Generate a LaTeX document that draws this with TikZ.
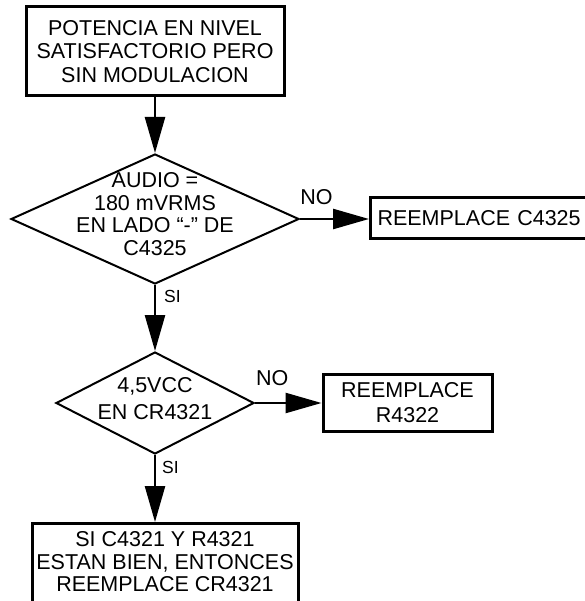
\documentclass[tikz,border=0pt]{standalone}
\usepackage{fontspec}
\setmainfont{Liberation Sans}
\usepackage{tikz}
\usetikzlibrary{shapes.geometric}
\usetikzlibrary{arrows.meta}

\tikzset{
  box/.style={draw, line width=3pt, align=center},
  decision/.style={draw, diamond, line width=2pt, inner sep=0pt},
  flow/.style={line width=2.5pt, -{Triangle[length=36pt, width=20pt]}},
  yesno/.style={inner sep=0pt, font=\fontsize{21.5}{24}\selectfont},
  small/.style={inner sep=0pt, font=\fontsize{17.5}{19}\selectfont},
}

\begin{document}
\begin{tikzpicture}[x=1pt, y=-1pt]
\useasboundingbox (0,0) rectangle (584,601);
% \draw [help lines] (0,0) grid[step=50] (584,601);
\node[box, minimum width=258pt, minimum height=89pt, font=\fontsize{21.5}{23.5}\selectfont]
  (start) at (155,51.5) {POTENCIA EN NIVEL\\SATISFACTORIO PERO\\SIN MODULACION};
% first test
\node[decision, minimum width=288pt, minimum height=130pt] (audio) at (155,219) {};
\node[align=center, font=\fontsize{21.5}{22.7}\selectfont] (audiotext) at (155,214)
  {AUDIO =\\180 mVRMS\\EN LADO “-” DE\\C4325};
\node[box, anchor=west, minimum height=41pt, text width=230pt, align=left, inner xsep=7pt,
  font=\fontsize{21.5}{23.5}\selectfont] (c4325) at (369,218.5) {REEMPLACE C4325};
% second test
\node[decision, minimum width=198pt, minimum height=102pt] (check) at (155,403) {};
\node[align=center, font=\fontsize{21.5}{27}\selectfont] (checktext) at (155,398.5)
  {4,5VCC\\EN CR4321};
\node[box, minimum width=169pt, minimum height=57pt, font=\fontsize{21.5}{25}\selectfont]
  (r4322) at (407.5,402.5) {REEMPLACE\\R4322};
% last step, runs off the page
\node[box, anchor=north, minimum width=266pt, inner ysep=8pt, text depth=30pt,
  font=\fontsize{21.5}{22.5}\selectfont] (cr4321) at (165,522)
  {SI C4321 Y R4321\\ESTAN BIEN, ENTONCES\\REEMPLACE CR4321};

\draw[flow] (start.south) -- (audio.north);
\draw[flow] (audio.east) -- node[yesno, pos=0.24, yshift=22pt] (no1) {NO} (audio.east -| c4325.west);
\draw[flow] (audio.south) -- node[small, pos=0.17, xshift=17.5pt] (si1) {SI} (check.north);
\draw[flow] (check.east) -- node[yesno, pos=0.26, yshift=25pt] (no2) {NO} (check.east -| r4322.west);
\draw[flow] (check.south) -- node[small, pos=0.19, xshift=15.5pt] (si2) {SI} (check.south |- cr4321.north);
\end{tikzpicture}
\end{document}
